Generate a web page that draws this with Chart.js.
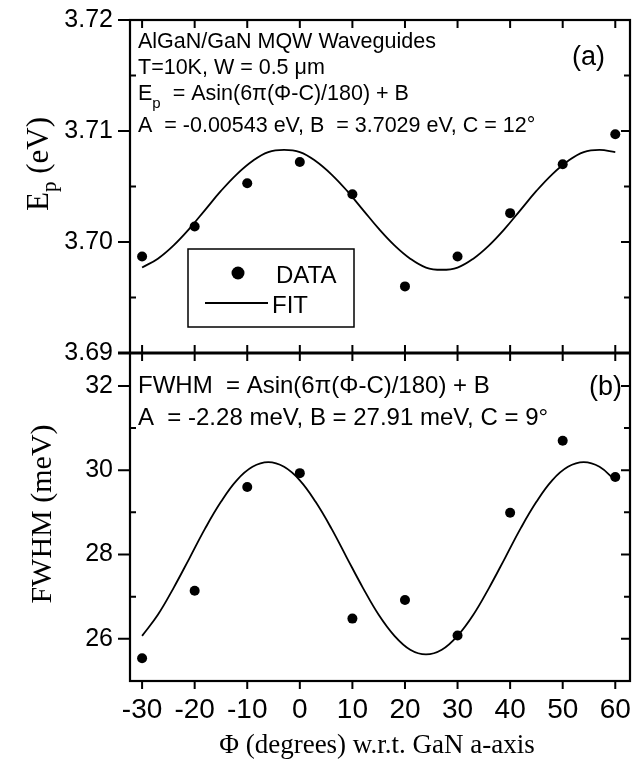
<!DOCTYPE html>
<html>
<head>
<meta charset="utf-8">
<script src="https://cdn.jsdelivr.net/npm/chart.js@4.4.0/dist/chart.umd.min.js"></script>
<style>
  html, body { margin: 0; padding: 0; background: #fff; }
  #chart { display: block; }
</style>
</head>
<body>
<canvas id="chart" width="641" height="761"></canvas>
<script>
// measured points (Phi in degrees)
const phi = [-30, -20, -10, 0, 10, 20, 30, 40, 50, 60];
const epData = [3.6987, 3.7014, 3.7053, 3.7072, 3.7043, 3.6960, 3.6987, 3.7026, 3.7070, 3.7097];
const fwhmData = [25.54, 27.14, 29.60, 29.93, 26.48, 26.92, 26.08, 28.99, 30.70, 29.84];

// fit curves every 3 degrees
const fitPhi = [-30, -27, -24, -21, -18, -15, -12, -9, -6, -3, 0, 3, 6, 9, 12, 15,
  18, 21, 24, 27, 30, 33, 36, 39, 42, 45, 48, 51, 54, 57, 60];
const epFit = [3.6977, 3.6985, 3.6997, 3.7012, 3.7029, 3.7046, 3.7061, 3.7073, 3.7081,
  3.7083, 3.7081, 3.7073, 3.7061, 3.7046, 3.7029, 3.7012, 3.6997, 3.6985, 3.6977,
  3.6975, 3.6977, 3.6985, 3.6997, 3.7012, 3.7029, 3.7046, 3.7061, 3.7073, 3.7081,
  3.7083, 3.7081];
const fwhmFit = [26.07, 26.57, 27.21, 27.91, 28.62, 29.25, 29.76, 30.08, 30.19, 30.08,
  29.76, 29.25, 28.62, 27.91, 27.21, 26.57, 26.07, 25.74, 25.63, 25.74, 26.07, 26.57,
  27.21, 27.91, 28.62, 29.25, 29.76, 30.08, 30.19, 30.08, 29.76];

// ticks
const xTicks = [-30, -20, -10, 0, 10, 20, 30, 40, 50, 60];
const epTicks = [3.69, 3.70, 3.71, 3.72];
const epMinor = [3.695, 3.705, 3.715];
const fwhmTicks = [26, 28, 30, 32];
const fwhmMinor = [25, 27, 29, 31];

const SANS = "'Liberation Sans', Arial, sans-serif";
const SERIF = "'Liberation Serif', 'Times New Roman', serif";

const pts = (xs, ys) => xs.map((x, i) => ({ x: x, y: ys[i] }));

// draw a line of text made of runs, some of them subscript
function drawRuns(ctx, x, y, runs) {
  runs.forEach(r => {
    ctx.font = r.font;
    ctx.fillText(r.t, x, y + (r.dy || 0));
    x += ctx.measureText(r.t).width;
  });
}

const framePlugin = {
  id: 'frame',
  afterDraw(chart) {
    const { ctx, chartArea: a, scales } = chart;
    const sx = scales.x, ya = scales.yA, yb = scales.yB;
    const mid = ya.bottom;
    ctx.save();
    ctx.strokeStyle = '#000';
    ctx.fillStyle = '#000';
    ctx.lineWidth = 2.2;
    ctx.strokeRect(a.left, a.top, a.right - a.left, a.bottom - a.top);
    ctx.lineWidth = 3;
    ctx.beginPath(); ctx.moveTo(a.left - 12, mid); ctx.lineTo(a.right, mid); ctx.stroke();
    ctx.lineWidth = 2;
    ctx.beginPath();
    xTicks.forEach(v => {
      const px = sx.getPixelForValue(v);
      ctx.moveTo(px, a.top); ctx.lineTo(px, a.top + 8);
      ctx.moveTo(px, mid); ctx.lineTo(px, mid - 8);
      ctx.moveTo(px, mid); ctx.lineTo(px, mid + 8);
      ctx.moveTo(px, a.bottom); ctx.lineTo(px, a.bottom + 8);
    });
    const yTick = (scale, majors, minors) => {
      majors.forEach(v => {
        const py = scale.getPixelForValue(v);
        ctx.moveTo(a.left - 12, py); ctx.lineTo(a.left, py);
        ctx.moveTo(a.right, py); ctx.lineTo(a.right - 9, py);
      });
      minors.forEach(v => {
        const py = scale.getPixelForValue(v);
        ctx.moveTo(a.left, py); ctx.lineTo(a.left + 6, py);
        ctx.moveTo(a.right, py); ctx.lineTo(a.right - 6, py);
      });
    };
    yTick(ya, epTicks, epMinor);
    yTick(yb, fwhmTicks, fwhmMinor);
    ctx.stroke();

    // panel (a) annotations
    const L = a.left + 8;
    const f1 = '21.5px ' + SANS, fs = '15px ' + SANS;
    ctx.textBaseline = 'alphabetic';
    ctx.textAlign = 'left';
    drawRuns(ctx, L, 48, [{ t: 'AlGaN/GaN MQW Waveguides', font: f1 }]);
    drawRuns(ctx, L, 74, [{ t: 'T=10K, W = 0.5 \u03bcm', font: f1 }]);
    drawRuns(ctx, L, 100, [{ t: 'E', font: f1 }, { t: 'p', font: fs, dy: 8 },
      { t: '  = Asin(6\u03c0(\u03a6-C)/180) + B', font: f1 }]);
    drawRuns(ctx, L, 132, [{ t: 'A  = -0.00543 eV, B  = 3.7029 eV, C = 12\u00b0', font: f1 }]);
    ctx.font = '27px ' + SANS;
    ctx.fillText('(a)', 572, 65);

    // legend box
    const lx = 188, ly = 249;
    ctx.lineWidth = 1.5;
    ctx.strokeRect(lx, ly, 166, 78);
    ctx.beginPath(); ctx.arc(lx + 50, ly + 24, 6.5, 0, Math.PI * 2); ctx.fill();
    ctx.lineWidth = 2;
    ctx.beginPath(); ctx.moveTo(lx + 17, ly + 54); ctx.lineTo(lx + 80, ly + 54); ctx.stroke();
    ctx.font = '24px ' + SANS;
    ctx.fillText('DATA', lx + 88, ly + 34);
    ctx.fillText('FIT', lx + 84, ly + 64);

    // panel (b) annotations
    const f2 = '24px ' + SANS;
    drawRuns(ctx, L, 393, [{ t: 'FWHM  = Asin(6\u03c0(\u03a6-C)/180) + B', font: f2 }]);
    drawRuns(ctx, L, 425, [{ t: 'A  = -2.28 meV, B = 27.91 meV, C = 9\u00b0', font: f2 }]);
    ctx.font = '27px ' + SANS;
    ctx.fillText('(b)', 589, 395);

    // axis titles
    const tf = '31px ' + SERIF, tsub = '21px ' + SERIF;
    ctx.save();
    ctx.translate(36, 164);
    ctx.rotate(-Math.PI / 2);
    ctx.textAlign = 'left';
    ctx.font = tf;
    const w1 = ctx.measureText('E').width + ctx.measureText(' (eV)').width;
    ctx.font = tsub;
    const w2 = ctx.measureText('p').width;
    drawRuns(ctx, -(w1 + w2) / 2, 12, [{ t: 'E', font: tf }, { t: 'p', font: tsub, dy: 8 },
      { t: ' (eV)', font: tf }]);
    ctx.restore();

    ctx.save();
    ctx.translate(40, 514);
    ctx.rotate(-Math.PI / 2);
    ctx.textAlign = 'center';
    ctx.font = '30px ' + SERIF;
    ctx.fillText('FWHM (meV)', 0, 11);
    ctx.restore();

    ctx.textAlign = 'center';
    ctx.font = '27px ' + SERIF;
    ctx.fillText('\u03a6 (degrees) w.r.t. GaN a-axis', (a.left + a.right) / 2 - 3, 753);
    ctx.restore();
  }
};

const setTicks = list => scale => { scale.ticks = list.map(v => ({ value: v })); };
const fitY = s => { s.width = 130; s.paddingTop = 0; s.paddingBottom = 0; };

new Chart(document.getElementById('chart'), {
  type: 'scatter',
  data: {
    datasets: [
      { label: 'DATA', data: pts(phi, epData), yAxisID: 'yA', showLine: false,
        pointRadius: 5, pointBackgroundColor: '#000', pointBorderColor: '#000', pointBorderWidth: 0 },
      { label: 'FIT', data: pts(fitPhi, epFit), yAxisID: 'yA', showLine: true, tension: 0.4,
        pointRadius: 0, borderColor: '#000', borderWidth: 1.8 },
      { label: 'DATA', data: pts(phi, fwhmData), yAxisID: 'yB', showLine: false,
        pointRadius: 5, pointBackgroundColor: '#000', pointBorderColor: '#000', pointBorderWidth: 0 },
      { label: 'FIT', data: pts(fitPhi, fwhmFit), yAxisID: 'yB', showLine: true, tension: 0.4,
        pointRadius: 0, borderColor: '#000', borderWidth: 1.8 }
    ]
  },
  options: {
    responsive: false,
    animation: false,
    devicePixelRatio: 1,
    layout: { padding: { top: 20, right: 11, left: 0, bottom: 0 } },
    plugins: { legend: { display: false }, tooltip: { enabled: false } },
    scales: {
      x: {
        type: 'linear', min: -32.3, max: 62.8,
        afterBuildTicks: setTicks(xTicks),
        afterFit: s => { s.height = 80; s.paddingLeft = 0; s.paddingRight = 0; },
        grid: { display: false, drawTicks: false }, border: { display: false },
        ticks: { color: '#000', font: { family: SANS, size: 28 }, padding: 12, maxRotation: 0 }
      },
      yB: {
        type: 'linear', position: 'left', stack: 'panels', stackWeight: 328,
        min: 25, max: 32.78,
        afterBuildTicks: setTicks(fwhmTicks),
        afterFit: fitY,
        grid: { display: false, drawTicks: false }, border: { display: false },
        ticks: { color: '#000', font: { family: SANS, size: 25 }, padding: 17 }
      },
      yA: {
        type: 'linear', position: 'left', stack: 'panels', stackWeight: 333,
        min: 3.69, max: 3.72,
        afterBuildTicks: setTicks(epTicks),
        afterFit: fitY,
        grid: { display: false, drawTicks: false }, border: { display: false },
        ticks: { color: '#000', font: { family: SANS, size: 25 }, padding: 17,
          callback: v => v.toFixed(2) }
      }
    }
  },
  plugins: [framePlugin]
});
</script>
</body>
</html>
